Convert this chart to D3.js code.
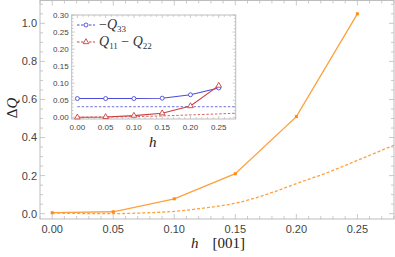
<!DOCTYPE html>
<html>
<head>
<meta charset="utf-8">
<script src="https://cdn.jsdelivr.net/npm/d3@7"></script>
<style>
  body { margin: 0; background: #fff; }
  svg text { font-family: "Liberation Sans", Arial, sans-serif; }
  .serif { font-family: "Liberation Serif", "Times New Roman", serif; }
</style>
</head>
<body>
<script>
// ---------------- data ----------------
const hPoints = [0.00, 0.05, 0.10, 0.15, 0.20, 0.25];
const dQ = [0.005, 0.010, 0.078, 0.210, 0.510, 1.050];

// dashed main curve
const hCurve = [0.00, 0.025, 0.05, 0.075, 0.10, 0.125, 0.15, 0.175, 0.20, 0.225, 0.25, 0.28];
const dQCurve = [0.003, 0.001, 0.000, 0.004, 0.012, 0.030, 0.055, 0.100, 0.158, 0.215, 0.280, 0.360];

// inset
const q33 = [0.055, 0.055, 0.055, 0.056, 0.066, 0.086];
const q1122 = [0.000, 0.001, 0.005, 0.012, 0.033, 0.093];
const q33Ref = [[0.00, 0.031], [0.28, 0.031]];
const q1122RefH = [0.00, 0.05, 0.10, 0.15, 0.20, 0.25, 0.28];
const q1122RefV = [0.000, 0.001, 0.002, 0.004, 0.007, 0.010, 0.012];

const mainXTicks = [0.00, 0.05, 0.10, 0.15, 0.20, 0.25];
const mainYTicks = [0.0, 0.2, 0.4, 0.6, 0.8, 1.0];
const insetXTicks = [0.00, 0.05, 0.10, 0.15, 0.20, 0.25];
const insetYTicks = [0.00, 0.05, 0.10, 0.15, 0.20, 0.25, 0.30];

const orange = "#ffa03c", orangeDark = "#ff8a10";
const blue = "#4a4ad8", red = "#cc3f3f";
const frameCol = "#bdbdbd", labelCol = "#444";

const W = 395, H = 257;
const svg = d3.select("body").append("svg").attr("width", W).attr("height", H);

// ------------- generic frame with inward ticks -------------
function frame(g, x, y, xt, yt, xMinor, yMinor, fs, fmtX, fmtY, majL, minL) {
  const [x0, x1] = x.range(), [y0, y1] = y.range();
  g.append("rect").attr("x", x0).attr("y", y1).attr("width", x1 - x0).attr("height", y0 - y1)
    .attr("fill", "#fff").attr("stroke", frameCol).attr("stroke-width", 1);
  const tk = g.append("g").attr("stroke", frameCol).attr("stroke-width", 0.8);
  xMinor.forEach(v => {
    const L = xt.some(t => Math.abs(t - v) < 1e-9) ? majL : minL;
    tk.append("line").attr("x1", x(v)).attr("x2", x(v)).attr("y1", y0).attr("y2", y0 - L);
    tk.append("line").attr("x1", x(v)).attr("x2", x(v)).attr("y1", y1).attr("y2", y1 + L);
  });
  yMinor.forEach(v => {
    const L = yt.some(t => Math.abs(t - v) < 1e-9) ? majL : minL;
    tk.append("line").attr("y1", y(v)).attr("y2", y(v)).attr("x1", x0).attr("x2", x0 + L);
    tk.append("line").attr("y1", y(v)).attr("y2", y(v)).attr("x1", x1).attr("x2", x1 - L);
  });
  g.selectAll(null).data(xt).enter().append("text")
    .attr("x", d => x(d)).attr("y", y0 + fs + 3).attr("text-anchor", "middle")
    .attr("font-size", fs).attr("fill", labelCol).text(fmtX);
  g.selectAll(null).data(yt).enter().append("text")
    .attr("x", x0 - 3).attr("y", d => y(d) + fs * 0.36).attr("text-anchor", "end")
    .attr("font-size", fs).attr("fill", labelCol).text(fmtY);
}

// ---------------- main plot ----------------
const x = d3.scaleLinear().domain([-0.01, 0.28]).range([40, 394]);
const y = d3.scaleLinear().domain([-0.028, 1.12]).range([219, 0.5]);
const mainG = svg.append("g");
frame(mainG, x, y, mainXTicks, mainYTicks,
  d3.range(-0.01, 0.2801, 0.01).map(v => +v.toFixed(2)),
  d3.range(0, 1.1001, 0.05).map(v => +v.toFixed(2)),
  11, d3.format(".2f"), d3.format(".1f"), 5, 3);

const line = d3.line().x(d => x(d[0])).y(d => y(d[1]));
mainG.append("path").datum(hCurve.map((h, i) => [h, dQCurve[i]]))
  .attr("d", line.curve(d3.curveMonotoneX)).attr("fill", "none")
  .attr("stroke", orange).attr("stroke-width", 1.3).attr("stroke-dasharray", "3,2");
mainG.append("path").datum(hPoints.map((h, i) => [h, dQ[i]]))
  .attr("d", d3.line().x(d => x(d[0])).y(d => y(d[1]))).attr("fill", "none")
  .attr("stroke", orange).attr("stroke-width", 1.3);
mainG.selectAll(null).data(hPoints).enter().append("rect")
  .attr("x", (d, i) => x(d) - 1.5).attr("y", (d, i) => y(dQ[i]) - 1.5)
  .attr("width", 3).attr("height", 3).attr("fill", orangeDark);

// axis labels
svg.append("text").attr("class", "serif").attr("transform", "translate(17,108) rotate(-90)")
  .attr("text-anchor", "middle").attr("font-size", 15).attr("fill", "#222")
  .html('Δ<tspan font-style="italic">Q</tspan>');
svg.append("text").attr("class", "serif").attr("x", 191).attr("y", 248)
  .attr("font-size", 15).attr("fill", "#222")
  .html('<tspan font-style="italic">h</tspan><tspan dx="14">[001]</tspan>');

// ---------------- inset ----------------
const xi = d3.scaleLinear().domain([-0.01, 0.28]).range([71.7, 235.7]);
const yi = d3.scaleLinear().domain([-0.005, 0.30]).range([119, 15]);
const inG = svg.append("g");
frame(inG, xi, yi, insetXTicks, insetYTicks,
  d3.range(-0.01, 0.2801, 0.01).map(v => +v.toFixed(2)),
  d3.range(0, 0.3001, 0.01).map(v => +v.toFixed(2)),
  8, d3.format(".2f"), d3.format(".2f"), 3, 1.8);

const lineI = d3.line().x(d => xi(d[0])).y(d => yi(d[1]));
inG.append("path").datum(q33Ref).attr("d", lineI).attr("fill", "none")
  .attr("stroke", blue).attr("stroke-width", 1).attr("stroke-dasharray", "2.5,1.8").attr("opacity", 0.8);
inG.append("path").datum(q1122RefH.map((h, i) => [h, q1122RefV[i]]))
  .attr("d", d3.line().x(d => xi(d[0])).y(d => yi(d[1])).curve(d3.curveMonotoneX))
  .attr("fill", "none").attr("stroke", red).attr("stroke-width", 1)
  .attr("stroke-dasharray", "2.5,1.8").attr("opacity", 0.8);
inG.append("path").datum(hPoints.map((h, i) => [h, q33[i]])).attr("d", lineI)
  .attr("fill", "none").attr("stroke", blue).attr("stroke-width", 1.1);
inG.append("path").datum(hPoints.map((h, i) => [h, q1122[i]])).attr("d", lineI)
  .attr("fill", "none").attr("stroke", red).attr("stroke-width", 1.1);

const tri = d3.symbol().type(d3.symbolTriangle).size(14);
inG.selectAll(null).data(hPoints).enter().append("circle")
  .attr("cx", d => xi(d)).attr("cy", (d, i) => yi(q33[i])).attr("r", 2)
  .attr("fill", "#fff").attr("stroke", blue).attr("stroke-width", 0.9);
inG.selectAll(null).data(hPoints).enter().append("path")
  .attr("d", tri).attr("transform", (d, i) => `translate(${xi(d)},${yi(q1122[i])})`)
  .attr("fill", "#fff").attr("stroke", red).attr("stroke-width", 0.9);

svg.append("text").attr("class", "serif").attr("x", 149).attr("y", 147)
  .attr("font-size", 15).attr("font-style", "italic").attr("fill", "#222").text("h");

// legend
const leg = inG.append("g");
[[25, blue, "circle"], [42, red, "tri"]].forEach(([ly, c, m]) => {
  leg.append("line").attr("x1", 77).attr("x2", 95).attr("y1", ly).attr("y2", ly)
    .attr("stroke", c).attr("stroke-width", 1).attr("stroke-dasharray", "2.5,1.5");
  if (m === "circle") leg.append("circle").attr("cx", 86).attr("cy", ly).attr("r", 2)
    .attr("fill", "#fff").attr("stroke", c).attr("stroke-width", 0.9);
  else leg.append("path").attr("d", tri).attr("transform", `translate(86,${ly})`)
    .attr("fill", "#fff").attr("stroke", c).attr("stroke-width", 0.9);
});
leg.append("text").attr("class", "serif").attr("x", 99).attr("y", 29).attr("font-size", 14).attr("fill", "#333")
  .html('−<tspan font-style="italic">Q</tspan><tspan font-size="9" dy="3">33</tspan>');
leg.append("text").attr("class", "serif").attr("x", 99).attr("y", 46).attr("font-size", 14).attr("fill", "#333")
  .html('<tspan font-style="italic">Q</tspan><tspan font-size="9" dy="3">11</tspan><tspan dy="-3"> − </tspan><tspan font-style="italic">Q</tspan><tspan font-size="9" dy="3">22</tspan>');
</script>
</body>
</html>
